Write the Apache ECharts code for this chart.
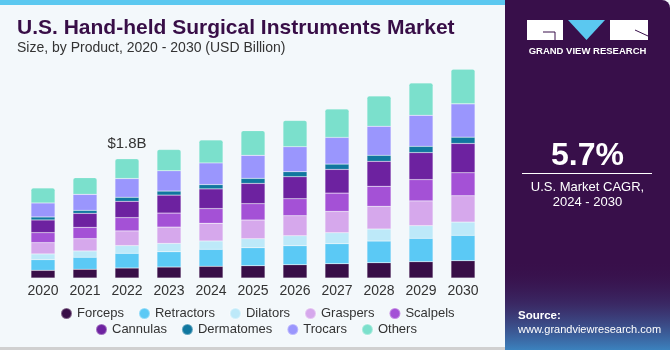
<!DOCTYPE html>
<html>
<head>
<meta charset="utf-8">
<script src="https://cdn.jsdelivr.net/npm/echarts@6/dist/echarts.min.js"></script>
<style>
  html, body { margin: 0; padding: 0; background: #f3f8fb; }
  #chart { width: 670px; height: 350px; }
</style>
</head>
<body>
<div id="chart"></div>
<script>
  // 数据 (USD Billion)
  const years = ['2020', '2021', '2022', '2023', '2024', '2025', '2026', '2027', '2028', '2029', '2030'];
  const forceps    = [0.116, 0.132, 0.151, 0.166, 0.177, 0.186, 0.201, 0.216, 0.231, 0.247, 0.262];
  const retractors = [0.162, 0.182, 0.222, 0.231, 0.257, 0.272, 0.287, 0.303, 0.328, 0.353, 0.383];
  const dilators   = [0.086, 0.095, 0.117, 0.126, 0.126, 0.136, 0.151, 0.166, 0.182, 0.192, 0.201];
  const graspers   = [0.171, 0.186, 0.222, 0.247, 0.268, 0.283, 0.303, 0.322, 0.343, 0.374, 0.398];
  const scalpels   = [0.151, 0.171, 0.201, 0.212, 0.222, 0.247, 0.257, 0.277, 0.303, 0.322, 0.348];
  const cannulas   = [0.192, 0.212, 0.247, 0.272, 0.298, 0.307, 0.333, 0.359, 0.378, 0.409, 0.443];
  const dermatomes = [0.045, 0.045, 0.061, 0.061, 0.065, 0.076, 0.076, 0.080, 0.091, 0.095, 0.095];
  const trocars    = [0.212, 0.242, 0.283, 0.307, 0.328, 0.348, 0.378, 0.404, 0.439, 0.469, 0.504];
  const others     = [0.227, 0.253, 0.298, 0.322, 0.348, 0.374, 0.398, 0.428, 0.458, 0.489, 0.525];

  const seriesDefs = [
    { name: 'Forceps',    data: forceps,    color: '#380e47' },
    { name: 'Retractors', data: retractors, color: '#5bc9f5' },
    { name: 'Dilators',   data: dilators,   color: '#bde9f9' },
    { name: 'Graspers',   data: graspers,   color: '#d6a8ec' },
    { name: 'Scalpels',   data: scalpels,   color: '#a451d6' },
    { name: 'Cannulas',   data: cannulas,   color: '#6d22a0' },
    { name: 'Dermatomes', data: dermatomes, color: '#10779f' },
    { name: 'Trocars',    data: trocars,    color: '#9a96fd' },
    { name: 'Others',     data: others,     color: '#7be0cc' },
  ];

  const FONT = '"Liberation Sans", Arial, sans-serif';
  const chart = echarts.init(document.getElementById('chart'), null, { renderer: 'canvas' });

  const series = seriesDefs.map((s, idx) => ({
    name: s.name,
    type: 'bar',
    stack: 'total',
    barWidth: 24,
    data: s.data.map((v, i) => {
      const item = { value: v };
      // 2022 总量标注
      if (idx === seriesDefs.length - 1 && i === 2) {
        item.label = {
          show: true, position: 'top', distance: 8,
          formatter: '$1.8B', color: '#333', fontSize: 15, fontFamily: FONT,
        };
      }
      return item;
    }),
    itemStyle: {
      color: s.color,
      borderColor: 'rgba(255,255,255,0.35)',
      borderWidth: 0.5,
      borderRadius: idx === seriesDefs.length - 1 ? [2, 2, 0, 0] : 0,
    },
    emphasis: { disabled: true },
  }));

  const legendText = { color: '#333', fontSize: 13, fontFamily: FONT };

  chart.setOption({
    backgroundColor: '#f3f8fb',
    animation: false,
    grid: { left: 22, right: 186, top: 40, bottom: 72 },
    xAxis: {
      type: 'category',
      data: years,
      axisLine: { show: false },
      axisTick: { show: false },
      axisLabel: { color: '#333', fontSize: 14, fontFamily: FONT, margin: 6 },
    },
    yAxis: {
      type: 'value', min: 0, max: 3.6, show: false,
    },
    legend: [
      {
        data: seriesDefs.slice(0, 5).map(s => s.name),
        left: 55, top: 302, icon: 'circle', itemWidth: 11, itemHeight: 11,
        itemGap: 14, textStyle: legendText,
      },
      {
        data: seriesDefs.slice(5).map(s => s.name),
        left: 90, top: 318, icon: 'circle', itemWidth: 11, itemHeight: 11,
        itemGap: 14, textStyle: legendText,
      },
    ],
    series,
    graphic: [
      // 顶部蓝条
      { type: 'rect', shape: { x: 0, y: 0, width: 505, height: 5 }, style: { fill: '#5bc8f0' } },
      // 底部灰线
      { type: 'rect', shape: { x: 0, y: 347, width: 505, height: 3 }, style: { fill: '#d0d0d0' } },
      // 标题
      { type: 'text', left: 17, top: 18, style: {
        text: 'U.S. Hand-held Surgical Instruments Market', fill: '#380e47',
        font: 'bold 21px ' + FONT } },
      { type: 'text', left: 17, top: 41, style: {
        text: 'Size, by Product, 2020 - 2030 (USD Billion)', fill: '#333',
        font: '14px ' + FONT } },
      // 右侧面板
      { type: 'rect', shape: { x: 505, y: 0, width: 165, height: 350, r: [0, 8, 0, 0] },
        style: { fill: '#380f4a' } },
      { type: 'rect', shape: { x: 505, y: 260, width: 165, height: 90 },
        style: { fill: { type: 'linear', x: 0, y: 0, x2: 0, y2: 1, colorStops: [
          { offset: 0, color: 'rgba(56,15,74,0)' },
          { offset: 0.5, color: 'rgba(60,60,120,0.6)' },
          { offset: 1, color: 'rgba(60,150,210,0.85)' },
        ] } } },
      // Logo
      { type: 'rect', shape: { x: 527, y: 20, width: 36, height: 20 }, style: { fill: '#fff' } },
      { type: 'polygon', shape: { points: [[568, 20], [605, 20], [586.5, 40]] }, style: { fill: '#5bc8f0' } },
      { type: 'rect', shape: { x: 610, y: 20, width: 38, height: 20 }, style: { fill: '#fff' } },
      { type: 'line', shape: { x1: 543, y1: 32, x2: 555, y2: 32 }, style: { stroke: '#380f4a', lineWidth: 1 } },
      { type: 'line', shape: { x1: 555, y1: 32, x2: 555, y2: 40 }, style: { stroke: '#380f4a', lineWidth: 1 } },
      { type: 'line', shape: { x1: 635, y1: 30, x2: 648, y2: 36 }, style: { stroke: '#380f4a', lineWidth: 1 } },
      { type: 'text', x: 587.5, y: 51, style: {
        text: 'GRAND VIEW RESEARCH', fill: '#fff', font: 'bold 9.5px ' + FONT,
        align: 'center', verticalAlign: 'middle' } },
      // CAGR
      { type: 'text', x: 587.5, y: 156, style: {
        text: '5.7%', fill: '#fff', font: 'bold 32px ' + FONT,
        align: 'center', verticalAlign: 'middle' } },
      { type: 'line', shape: { x1: 522, y1: 173.5, x2: 652, y2: 173.5 }, style: { stroke: '#fff', lineWidth: 1 } },
      { type: 'text', x: 587.5, y: 187, style: {
        text: 'U.S. Market CAGR,', fill: '#fff', font: '13px ' + FONT,
        align: 'center', verticalAlign: 'middle' } },
      { type: 'text', x: 587.5, y: 202, style: {
        text: '2024 - 2030', fill: '#fff', font: '13px ' + FONT,
        align: 'center', verticalAlign: 'middle' } },
      // Source
      { type: 'text', x: 518, y: 316, style: {
        text: 'Source:', fill: '#fff', font: 'bold 11.5px ' + FONT, verticalAlign: 'middle' } },
      { type: 'text', x: 518, y: 330, style: {
        text: 'www.grandviewresearch.com', fill: '#fff', font: '11px ' + FONT, verticalAlign: 'middle' } },
    ],
  });
</script>
</body>
</html>
